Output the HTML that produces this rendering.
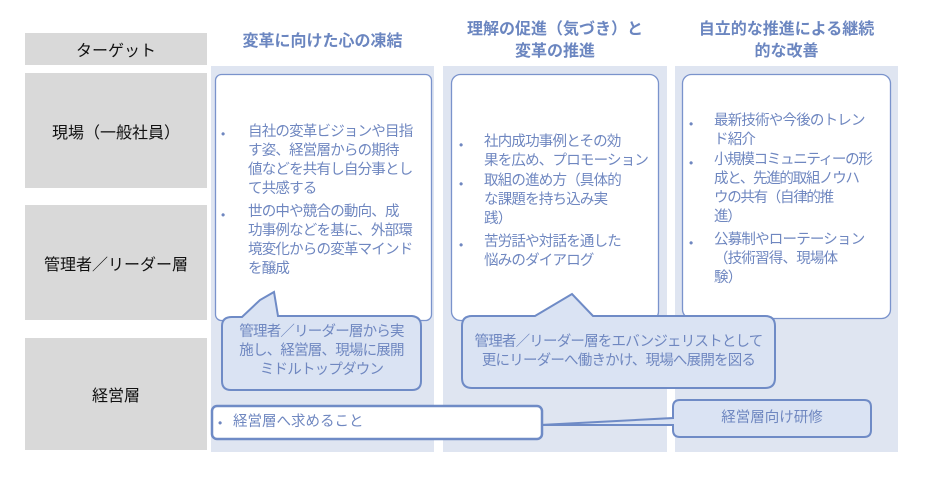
<!DOCTYPE html>
<html><head><meta charset="utf-8"><style>
body{margin:0;width:929px;height:497px;background:#fff;position:relative;overflow:hidden;font-family:"Liberation Sans","Noto Sans CJK JP",sans-serif;}
.a{position:absolute;}
.g{position:absolute;background:#d9d9d9;left:25px;width:182px;display:flex;align-items:center;justify-content:center;font-size:16px;color:#111;}
.col{position:absolute;background:#dfe5f1;top:66px;height:386px;}
.h{position:absolute;color:#6b86c0;font-weight:bold;font-size:16px;text-align:center;line-height:22px;}
.t{position:absolute;color:#6f87c0;font-size:14.5px;line-height:19px;white-space:nowrap;}
.b{position:absolute;color:#6f87c0;font-size:12px;}
.n{letter-spacing:-0.8px;}
</style></head><body>
<div class="g" style="top:33px;height:32px">ターゲット</div>
<div class="g" style="top:73px;height:115px">現場（一般社員）</div>
<div class="g" style="top:205px;height:115px">管理者／リーダー層</div>
<div class="g" style="top:338px;height:112px">経営層</div>
<div class="col" style="left:211px;width:223px"></div>
<div class="col" style="left:443px;width:224px"></div>
<div class="col" style="left:675px;width:223px"></div>
<div class="h" style="left:211px;width:223px;top:31px">変革に向けた心の凍結</div>
<div class="h" style="left:443px;width:224px;top:19px">理解の促進（気づき）と<br>変革の推進</div>
<div class="h" style="left:675px;width:223px;top:19px">自立的な推進による継続<br>的な改善</div>
<svg class="a" style="left:0;top:0" width="929" height="497">
<g fill="#fff" stroke="#7a93cc" stroke-width="1.3">
<rect x="215.5" y="74.5" width="216" height="246" rx="6"/>
<rect x="451.5" y="74.5" width="207" height="246" rx="9"/>
<rect x="682.5" y="74.5" width="208" height="244" rx="9"/>
</g>
<g fill="#dae3f3" stroke="#6f8bc6" stroke-width="2">
<path d="M232 317 H242 L260 300 L274 292 L278 316 H412 Q421 317 421 326 V381 Q421 390 412 390 H231 Q222 390 222 381 V326 Q222 317 232 317 Z"/>
<path d="M472 316 H535 L572 294 L593 316 H765 Q775 316 775 326 V378 Q775 388 765 388 H472 Q462 388 462 378 V326 Q462 316 472 316 Z"/>
<path d="M680 400 H864 Q871 400 871 407 V430 Q871 437 864 437 H680 Q673 437 673 430 V425 L540 425 L673 418 V407 Q673 400 680 400 Z"/>
</g>
<rect x="212" y="406" width="330" height="33" rx="5" fill="#fff" stroke="#6f8bc6" stroke-width="2.5"/>
</svg>
<div class="b" style="left:221px;top:127px">•</div>
<div class="t n" style="left:248px;top:123px">自社の変革ビジョンや目指<br>す姿、経営層からの期待<br>値などを共有し自分事とし<br>て共感する</div>
<div class="b" style="left:221px;top:208px">•</div>
<div class="t n" style="left:248px;top:203px">世の中や競合の動向、成<br>功事例などを基に、外部環<br>境変化からの変革マインド<br>を醸成</div>
<div class="b" style="left:459px;top:138px">•</div>
<div class="t n" style="left:484px;top:133px">社内成功事例とその効<br>果を広め、プロモーション</div>
<div class="b" style="left:459px;top:177px">•</div>
<div class="t n" style="left:484px;top:172px">取組の進め方（具体的<br>な課題を持ち込み実<br>践）</div>
<div class="b" style="left:459px;top:238px">•</div>
<div class="t n" style="left:484px;top:233px">苦労話や対話を通した<br>悩みのダイアログ</div>
<div class="b" style="left:689px;top:117px">•</div>
<div class="t n" style="left:714px;top:112px">最新技術や今後のトレン<br>ド紹介</div>
<div class="b" style="left:689px;top:156px">•</div>
<div class="t n" style="left:714px;top:151px;letter-spacing:-1.3px">小規模コミュニティーの形<br>成と、先進的取組ノウハ<br>ウの共有（自律的推<br>進）</div>
<div class="b" style="left:689px;top:236px">•</div>
<div class="t n" style="left:714px;top:231px">公募制やローテーション<br>（技術習得、現場体<br>験）</div>
<div class="t n" style="left:222px;top:323px;width:199px;text-align:center">管理者／リーダー層から実<br>施し、経営層、現場に展開<br>ミドルトップダウン</div>
<div class="t n" style="left:462px;top:333px;width:313px;text-align:center">管理者／リーダー層をエバンジェリストとして<br>更にリーダーへ働きかけ、現場へ展開を図る</div>
<div class="t" style="left:673px;top:409px;width:198px;text-align:center">経営層向け研修</div>
<div class="b" style="left:218px;top:416px">•</div>
<div class="t" style="left:233px;top:413px">経営層へ求めること</div>
</body></html>
